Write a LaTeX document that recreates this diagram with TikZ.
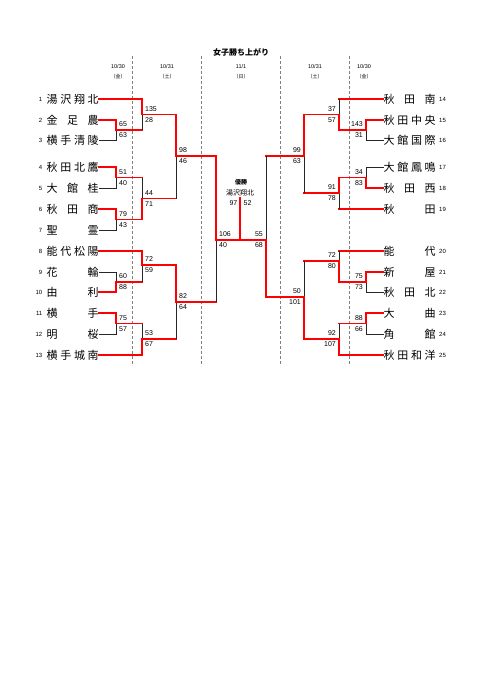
\documentclass[tikz,border=0pt]{standalone}
\usepackage{fontspec}
\setmainfont{Liberation Sans}
\newfontfamily\jp{Noto Sans CJK JP}
\usetikzlibrary{calc}

\newcommand{\spread}[1]{\hbox to 52pt{#1}}

\tikzset{
    won/.style={red, line width=1.3pt, line cap=rect},
    lost/.style={black!85, line width=0.7pt},
    daysep/.style={gray, line width=0.4pt, densely dashed},
    team/.style={inner sep=0pt, text height=9.5pt, text depth=1.5pt,
        font=\jp\fontsize{11}{11}\selectfont},
    num/.style={inner sep=0pt, font=\fontsize{6}{6}\selectfont},
    score/.style={inner sep=0pt, font=\fontsize{7}{7}\selectfont},
    date/.style={inner sep=0pt, font=\fontsize{5.5}{6}\selectfont},
}

\begin{document}
\begin{tikzpicture}[x=1pt, y=-1pt]
    \useasboundingbox (0,0) rectangle (481,680);

    % ---------------- Title and days ----------------
    \node[font=\jp\bfseries\fontsize{8}{8}\selectfont] (title) at (241,52) {女子勝ち上がり};
    \foreach \k/\x/\d/\w in {1/118/10\slash 30/金, 2/167/10\slash 31/土, 3/241/11\slash 1/日,
                             4/315/10\slash 31/土, 5/364/10\slash 30/金} {
        \node[date] (d\k) at (\x,67) {\d};
        \node[date, font=\jp\fontsize{5}{5}\selectfont] (w\k) at (\x,77) {（\w）};
    }
    \foreach \x in {132,201,280,349}
        \draw[daysep] (\x,56) -- (\x,366);

    % ---------------- Teams ----------------
    \foreach \i/\y/\n in {1/99/{湯\hfill 沢\hfill 翔\hfill 北}, 2/120/{金\hfill 足\hfill 農},
                          3/140/{横\hfill 手\hfill 清\hfill 陵}, 4/167/{秋\hfill 田\hfill 北\hfill 鷹},
                          5/188/{大\hfill 館\hfill 桂}, 6/209/{秋\hfill 田\hfill 商},
                          7/230/{聖\hfill 霊}, 8/251/{能\hfill 代\hfill 松\hfill 陽},
                          9/272/{花\hfill 輪}, 10/292/{由\hfill 利}, 11/313/{横\hfill 手},
                          12/334/{明\hfill 桜}, 13/355/{横\hfill 手\hfill 城\hfill 南}} {
        \node[team, anchor=west] (t\i) at (46.5,\y) {\spread{\n}};
        \node[num, anchor=east] (n\i) at (42.5,\y) {\i};
    }
    \foreach \i/\y/\n in {14/99/{秋\hfill 田\hfill 南}, 15/120/{秋\hfill 田\hfill 中\hfill 央},
                          16/140/{大\hfill 館\hfill 国\hfill 際}, 17/167/{大\hfill 館\hfill 鳳\hfill 鳴},
                          18/188/{秋\hfill 田\hfill 西}, 19/209/{秋\hfill 田},
                          20/251/{能\hfill 代}, 21/272/{新\hfill 屋}, 22/292/{秋\hfill 田\hfill 北},
                          23/313/{大\hfill 曲}, 24/334/{角\hfill 館},
                          25/355/{秋\hfill 田\hfill 和\hfill 洋}} {
        \node[team, anchor=west] (t\i) at (383.5,\y) {\spread{\n}};
        \node[num, anchor=west] (n\i) at (439,\y) {\i};
    }

    % ---------------- Matches ----------------
    \foreach \m/\x/\y in {mLa/116/130, mLb/142/114.5, mLc/116/177.5, mLd/116/219.5,
                          mLe/142/198.5, mLf/176/156, mLg/116/282, mLh/142/265,
                          mLi/116/323.5, mLj/142/339, mLk/176/302, mLs/216/240,
                          mRa/366/130, mRb/339/114.5, mRc/366/177.5, mRd/339/193,
                          mRe/304/156, mRf/366/282, mRg/339/261, mRh/366/323.5,
                          mRi/339/339, mRj/304/297, mRs/266/240}
        \coordinate (\m) at (\x,\y);
    \coordinate (cup) at (240,198);

    % ---------------- Brackets ----------------
    % out in the first game
    \foreach \s/\d in {t3.east/mLa, t5.east/mLc, t7.east/mLd, t9.east/mLg, t12.east/mLi,
                       t16.west/mRa, t17.west/mRc, t22.west/mRf, t24.west/mRh}
        \draw[lost] (\s) -| (\d);
    % came through, then out
    \foreach \s/\d in {mLa/mLb, mLc/mLe, mLe/mLf, mLg/mLh, mLi/mLj, mLj/mLk, mLk/mLs,
                       t14.west/mRb, t19.west/mRd, mRd/mRe, t20.west/mRg, mRh/mRi,
                       mRg/mRj, mRe/mRs} {
        \draw[won] (\s) -- (\s -| \d);
        \draw[lost] (\s -| \d) -- (\d);
    }
    % winners
    \foreach \s/\d in {t2.east/mLa, t1.east/mLb, t4.east/mLc, t6.east/mLd, mLd/mLe,
                       mLb/mLf, t10.east/mLg, t8.east/mLh, t11.east/mLi, t13.east/mLj,
                       mLh/mLk, mLf/mLs, mLs/cup,
                       t15.west/mRa, mRa/mRb, t18.west/mRc, mRc/mRd, mRb/mRe,
                       t21.west/mRf, mRf/mRg, t23.west/mRh, t25.west/mRi, mRi/mRj,
                       mRj/mRs, mRs/cup}
        \draw[won] (\s) -| (\d);

    % ---------------- Scores ----------------
    \foreach \m/\u/\l in {mLa/65/63, mLb/135/28, mLc/51/40, mLd/79/43, mLe/44/71,
                          mLf/98/46, mLg/60/88, mLh/72/59, mLi/75/57, mLj/53/67,
                          mLk/82/64, mLs/106/40} {
        \node[score, anchor=west] (\m-u) at ($(\m)+(3,-5.5)$) {\u};
        \node[score, anchor=west] (\m-l) at ($(\m)+(3,5.5)$) {\l};
    }
    \foreach \m/\u/\l in {mRa/143/31, mRb/37/57, mRc/34/83, mRd/91/78, mRe/99/63,
                          mRf/75/73, mRg/72/80, mRh/88/66, mRi/92/107, mRj/50/101,
                          mRs/55/68} {
        \node[score, anchor=east] (\m-u) at ($(\m)+(-3,-5.5)$) {\u};
        \node[score, anchor=east] (\m-l) at ($(\m)+(-3,5.5)$) {\l};
    }

    % ---------------- Champion ----------------
    \node[font=\jp\bfseries\fontsize{6}{6}\selectfont] (champ) at (241,182) {優勝};
    \node[font=\jp\fontsize{7}{7}\selectfont] (champname) at (240,193) {湯沢翔北};
    \node[score, anchor=east] (cup-l) at ($(cup)+(-2.5,5)$) {97};
    \node[score, anchor=west] (cup-r) at ($(cup)+(3.5,5)$) {52};

\end{tikzpicture}
\end{document}
